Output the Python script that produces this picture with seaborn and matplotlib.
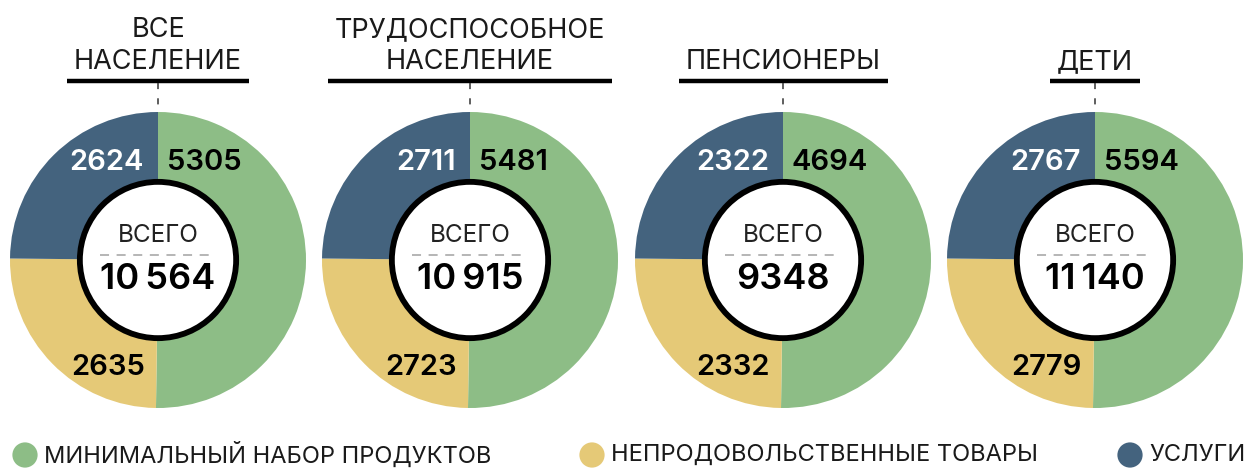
import matplotlib
matplotlib.use("Agg")
import matplotlib.pyplot as plt
import seaborn as sns
from matplotlib.patches import Circle

# ---- data ----
groups = [["ВСЕ", "НАСЕЛЕНИЕ"], ["ТРУДОСПОСОБНОЕ", "НАСЕЛЕНИЕ"], ["ПЕНСИОНЕРЫ"], ["ДЕТИ"]]
food = [5305, 5481, 4694, 5594]
nonfood = [2635, 2723, 2332, 2779]
services = [2624, 2711, 2322, 2767]
categories = ["МИНИМАЛЬНЫЙ НАБОР ПРОДУКТОВ", "НЕПРОДОВОЛЬСТВЕННЫЕ ТОВАРЫ", "УСЛУГИ"]
total_label = "ВСЕГО"

sns.set_theme(style="white")
palette = sns.color_palette(["#8dbd86", "#e5c977", "#44637e"])
plt.rcParams['font.family'] = ['Inter', 'DejaVu Sans']

W, H = 1247, 468
fig = plt.figure(figsize=(W / 100, H / 100), dpi=100)
fig.patch.set_facecolor("white")

ov = fig.add_axes([0, 0, 1, 1])
ov.set_xlim(0, W)
ov.set_ylim(H, 0)
ov.axis("off")

centers_x = [158, 470, 783, 1095]
cy, R = 260, 148


def fmt(n):
    return f"{n:,}".replace(",", "\u2009") if n >= 10000 else str(n)


fig.canvas.draw()
renderer = fig.canvas.get_renderer()

for i, cx in enumerate(centers_x):
    ax = fig.add_axes([(cx - R) / W, (H - cy - R) / H, 2 * R / W, 2 * R / H])
    vals = [food[i], nonfood[i], services[i]]
    ax.pie(vals, colors=palette, startangle=90, counterclock=False, radius=1,
           wedgeprops=dict(linewidth=0, width=0.6))
    ax.set_xlim(-1, 1)
    ax.set_ylim(-1, 1)
    ax.set_aspect("auto")
    ax.axis("off")
    ax.add_patch(Circle((0, 0), 0.528, facecolor="white", edgecolor="black", linewidth=4.2, zorder=5))
    ax.plot([-0.39, 0.39], [0.035, 0.035], color="#b0b0b0", lw=1.3, dashes=(5, 4.2), zorder=6)
    ax.text(0, 0.165, total_label, ha="center", va="center", fontsize=17.5, color="#222222", zorder=7)
    ax.text(0, -0.135, fmt(sum(vals)), ha="center", va="center", fontsize=26,
            fontweight="semibold", color="black", zorder=7)
    ax.text(0.06, 0.66, str(food[i]), ha="left", va="center", fontsize=21, fontweight="semibold", color="black")
    ax.text(-0.095, 0.66, str(services[i]), ha="right", va="center", fontsize=21, fontweight="semibold", color="white")
    ax.text(-0.09, -0.725, str(nonfood[i]), ha="right", va="center", fontsize=21, fontweight="semibold", color="black")

    lines = groups[i]
    ys = [62] if len(lines) == 1 else [30, 62]
    widest = 0
    for t, y in zip(lines, ys):
        txt = ov.text(cx, y, t, ha="center", va="center", fontsize=19.5, color="#1a1a1a")
        bb = txt.get_window_extent(renderer=renderer)
        widest = max(widest, bb.width)
    half = widest / 2 + 7
    ov.plot([cx - half, cx + half], [81, 81], color="black", lw=3.2, solid_capstyle="butt")
    ov.plot([cx, cx], [83, 106], color="#333333", lw=1.1, dashes=(4, 6))

leg_x = [25, 592, 1130]
for c, lab, x in zip(palette, categories, leg_x):
    ov.scatter([x], [455], s=330, color=c, edgecolor="none")
    ov.text(x + 19, 455, lab, ha="left", va="center", fontsize=17, color="#1a1a1a")

fig.savefig("out.png", dpi=100, facecolor="white")
